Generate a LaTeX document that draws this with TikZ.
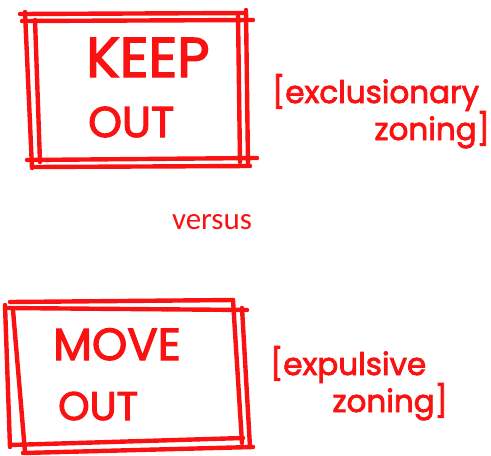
\documentclass[tikz,border=0pt]{standalone}
\usepackage{fontspec}
\setmainfont{Carlito}
\newfontfamily\handfont{Poppins}[FakeBold=2.6]
\usetikzlibrary{positioning}
\definecolor{signred}{RGB}{250,18,18}
\tikzset{
  pen/.style={draw=signred,line width=4.4pt,line cap=round},
  signtext/.style={text=signred,inner sep=0pt,anchor=base west,
    font=\handfont\fontsize{#1}{#1}\selectfont},
  notetext/.style={text=signred,inner sep=0pt,
    font=\handfont\fontsize{31}{31}\selectfont},
  versus/.style={text=signred,inner sep=0pt,anchor=base,
    font=\fontsize{31}{31}\selectfont}
}

\begin{document}
\begin{tikzpicture}[x=1pt,y=-1pt]
  \useasboundingbox (0,0) rectangle (491,456);

  % keep out sign, two shaky frames
  \draw[pen] (20,14) -- (246,13);
  \draw[pen] (22,21) -- (253,20);
  \draw[pen] (25,12) -- (32,168);
  \draw[pen] (35,20) -- (40,162);
  \draw[pen] (238,14) -- (240,162);
  \draw[pen] (246,10) -- (248,165);
  \draw[pen] (27,160) -- (257,158);
  \draw[pen] (32,167) -- (250,166);
  \node[signtext=56] (keep) at (86,77) {KEEP};
  \node[signtext=43] (keepout) at (88,137) {OUT};
  \node[notetext,anchor=base west] (excl) at (272,103) {[exclusionary};
  \node[notetext,anchor=base east] (exclzone) at (490,140) {zoning]};

  \node[versus] (vs) at (212,229) {versus};

  % move out sign
  \draw[pen] (10,302) -- (233,300);
  \draw[pen] (5,308) -- (247,310);
  \draw[pen] (5,305) -- (10,447);
  \draw[pen] (13,310) -- (25,452);
  \draw[pen] (233,300) -- (242,443);
  \draw[pen] (242,308) -- (250,447);
  \draw[pen] (10,445) -- (243,438);
  \draw[pen] (23,453) -- (253,447);
  \node[signtext=45] (move) at (53,360) {MOVE};
  \node[signtext=40] (moveout) at (58,420) {OUT};
  \node[notetext,anchor=base west] (expul) at (270,375) {[expulsive};
  \node[notetext,anchor=base east] (expulzone) at (448,412) {zoning]};
\end{tikzpicture}
\end{document}
